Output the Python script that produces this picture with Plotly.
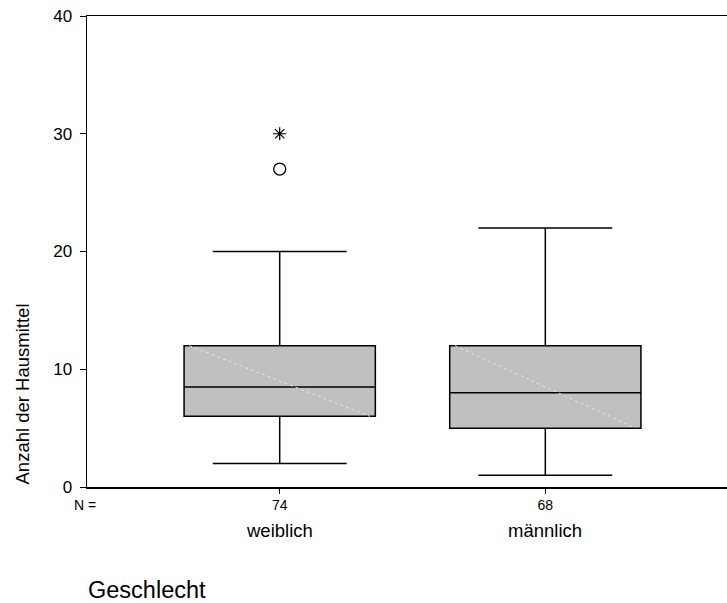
import plotly.graph_objects as go

# ---- data ----
categories = ["weiblich", "männlich"]
n_counts = ["74", "68"]
lower_whisker = [2, 1]
q1 = [6, 5]
median = [8.5, 8]
q3 = [12, 12]
upper_whisker = [20, 22]
outlier_circle = [27, None]   # mild outliers (o)
outlier_star = [30, None]     # extreme outliers (*)
y_ticks = [0, 10, 20, 30, 40]

positions = list(range(len(categories)))
box_w = 0.72
FONT = "Liberation Sans, Arial, sans-serif"

fig = go.Figure()

fig.add_trace(go.Box(
    x=positions, q1=q1, median=median, q3=q3,
    lowerfence=lower_whisker, upperfence=upper_whisker,
    width=box_w, whiskerwidth=0.7,
    fillcolor="#c0c0c0", line=dict(color="#000000", width=1.5),
    boxpoints=False, showlegend=False, hoverinfo="skip",
))

# faint diagonal line inside each box (rendering artefact of the original)
for p, lo, hi in zip(positions, q1, q3):
    fig.add_trace(go.Scatter(
        x=[p - box_w / 2 + 0.02, p + box_w / 2 - 0.02], y=[hi, lo],
        mode="lines", line=dict(color="#e4e4e4", width=1, dash="dot"),
        showlegend=False, hoverinfo="skip",
    ))

ox = [p for p, v in zip(positions, outlier_circle) if v is not None]
oy = [v for v in outlier_circle if v is not None]
fig.add_trace(go.Scatter(
    x=ox, y=oy, mode="markers",
    marker=dict(symbol="circle-open", size=12, color="#000000", line=dict(width=1.3)),
    showlegend=False,
))
sx = [p for p, v in zip(positions, outlier_star) if v is not None]
sy = [v for v in outlier_star if v is not None]
fig.add_trace(go.Scatter(
    x=sx, y=sy, mode="markers",
    marker=dict(symbol="asterisk-open", size=11, color="#000000", line=dict(width=1.2, color="#000000")),
    showlegend=False,
))

annotations = []
for p, c in zip(positions, categories):
    annotations.append(dict(x=p, xref="x", y=-0.092, yref="paper", text=c,
                            showarrow=False, font=dict(family=FONT, size=18.5, color="#000"),
                            xanchor="center", yanchor="middle"))
annotations.append(dict(x=0, xref="paper", xshift=-2, y=-0.038, yref="paper", text="N =",
                        showarrow=False, font=dict(family=FONT, size=14, color="#000"),
                        xanchor="center", yanchor="middle"))
annotations.append(dict(x=0, xref="paper", xshift=-64.5, y=0.1975, yref="paper",
                        text="Anzahl der Hausmittel", textangle=-90,
                        showarrow=False, font=dict(family=FONT, size=18.5, color="#000"),
                        xanchor="center", yanchor="middle"))
annotations.append(dict(x=0, xref="paper", xshift=-1, y=-0.218, yref="paper",
                        text="Geschlecht", showarrow=False,
                        font=dict(family=FONT, size=23.5, color="#000"),
                        xanchor="left", yanchor="middle"))

fig.update_layout(
    width=727, height=603,
    margin=dict(l=87, r=0, t=16, b=116),
    paper_bgcolor="white", plot_bgcolor="white",
    font=dict(family=FONT, color="#000"),
    hovermode=False,
    xaxis=dict(
        range=[-0.7255, 1.684], tickmode="array", tickvals=positions, ticktext=n_counts,
        ticks="outside", ticklen=5, tickwidth=1, tickcolor="#000",
        tickfont=dict(size=14), showline=True, linecolor="#000", linewidth=1.5,
        mirror=True, showgrid=False, zeroline=False,
    ),
    yaxis=dict(
        range=[0, 40], tickmode="array", tickvals=y_ticks,
        ticks="outside", ticklen=6, tickwidth=1, tickcolor="#000",
        tickfont=dict(size=17), showline=True, linecolor="#000", linewidth=1.5,
        showgrid=False, zeroline=False, ticklabelstandoff=4,
    ),
    annotations=annotations,
)

fig.write_html(
    "out.html",
    config={"displayModeBar": False, "staticPlot": True},
    post_script="document.body.style.margin='0';document.body.style.overflow='hidden';",
)
